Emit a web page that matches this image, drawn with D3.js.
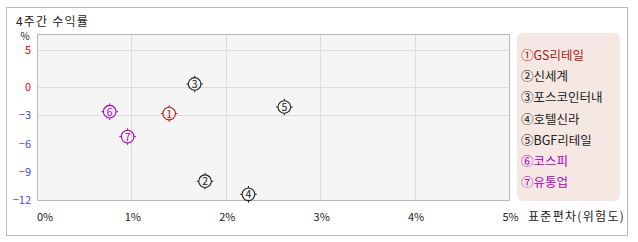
<!DOCTYPE html>
<html><head><meta charset="utf-8">
<script src="https://cdn.jsdelivr.net/npm/d3@7"></script>
<style>body{margin:0;background:#fff;}svg{display:block;font-family:"Noto Sans CJK KR","Noto Sans",sans-serif;}</style>
</head><body>
<svg id="c" width="638" height="242"></svg>
<script>
const names = ["GS리테일","신세계","포스코인터내","호텔신라","BGF리테일","코스피","유통업"];
const marks = ["①","②","③","④","⑤","⑥","⑦"];
const riskX = [1.40, 1.78, 1.67, 2.24, 2.62, 0.77, 0.96];
const returnY = [-2.8, -10.0, 0.45, -11.4, -2.1, -2.6, -5.25];
const colors = ["#b01818","#222","#222","#222","#222","#b000c0","#b000c0"];
const xTicks = [0,1,2,3,4,5];
const yTicks = [5,0,-3,-6,-9,-12];
const yGrid = [5,0,-3];

const svg = d3.select("#c");
svg.append("rect").attr("x",6.5).attr("y",7.5).attr("width",621).attr("height",228)
  .attr("fill","#fff").attr("stroke","#bbb");
svg.append("text").attr("x",16).attr("y",26).attr("font-size",12).attr("letter-spacing",1.2).attr("fill","#222").text("4주간 수익률");

const L=37,R=509,T=34,B=200;
const x = d3.scaleLinear().domain([0,5]).range([L,R]);
const y = d3.scaleLinear().domain([-12,0,7.2]).range([B,87.3,T]);

svg.append("rect").attr("x",L).attr("y",T).attr("width",R-L).attr("height",B-T).attr("fill","#f5f5f5");
const g = svg.append("g");
g.selectAll(".vg").data(xTicks.slice(1,-1)).join("line")
  .attr("x1",d=>Math.round(x(d))+0.5).attr("x2",d=>Math.round(x(d))+0.5)
  .attr("y1",T).attr("y2",B).attr("stroke","#dcdcdc");
g.selectAll(".hg").data(yGrid).join("line")
  .attr("x1",L).attr("x2",R).attr("y1",d=>Math.round(y(d))+0.5).attr("y2",d=>Math.round(y(d))+0.5)
  .attr("stroke","#dcdcdc");
svg.append("path").attr("d",`M${L+0.5},${T+0.5}H${R+0.5}V${B+0.5}H${L+0.5}Z`).attr("fill","none").attr("stroke","#b8b8b8");

// y labels
svg.selectAll(".yl").data(yTicks).join("text")
  .attr("x",31).attr("y",d=>y(d)+4).attr("text-anchor","end").attr("font-size",11)
  .attr("fill",d=>d>=0?"#ff0000":"#4848ff").text(d=>d<0?"\u2212"+Math.abs(d):d);
svg.append("text").attr("x",25).attr("y",40).attr("text-anchor","middle").attr("font-size",10).attr("fill","#222").text("%");
// x labels
svg.selectAll(".xl").data(xTicks).join("text")
  .attr("x",d=>d===0?x(d):x(d)+1.5).attr("y",221).attr("text-anchor",d=>d===0?"start":"middle")
  .attr("font-size",11).attr("fill","#222").text(d=>d+"%");
svg.append("text").attr("x",528).attr("y",221).attr("font-size",12).attr("letter-spacing",1.3).attr("fill","#222").text("표준편차(위험도)");

// points
const pts = svg.selectAll(".pt").data(names.map((n,i)=>({i,n}))).join("g")
  .attr("transform",d=>`translate(${x(riskX[d.i])},${y(returnY[d.i])})`);
pts.append("circle").attr("r",6.3).attr("fill","none").attr("stroke",d=>colors[d.i]).attr("stroke-width",1.1);
pts.selectAll("line").data(d=>[[0,-6.3,0,-8.3,d.i],[0,6.3,0,8.3,d.i],[-6.3,0,-8.3,0,d.i],[6.3,0,8.3,0,d.i]]).join("line")
  .attr("x1",d=>d[0]).attr("y1",d=>d[1]).attr("x2",d=>d[2]).attr("y2",d=>d[3]).attr("stroke",d=>colors[d[4]]).attr("stroke-width",1);
pts.append("text").attr("text-anchor","middle").attr("y",4).attr("font-size",10.5).attr("fill",d=>colors[d.i]).text(d=>d.i+1);

// legend
svg.append("rect").attr("x",517).attr("y",33).attr("width",103).attr("height",168).attr("rx",6).attr("fill","#f5e8e2");
svg.selectAll(".lg").data(names).join("text")
  .attr("x",521).attr("y",(d,i)=>60+i*21.2).attr("font-size",12.5).attr("fill",(d,i)=>colors[i])
  .text((d,i)=>marks[i]+d);
</script>
</body></html>
